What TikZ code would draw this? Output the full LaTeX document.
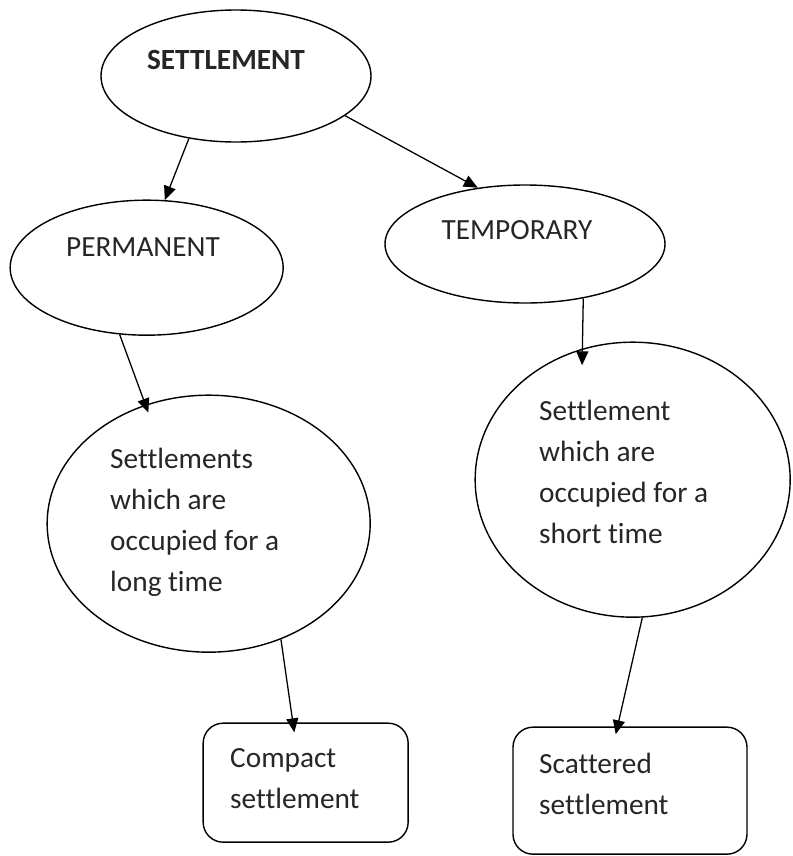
\documentclass[tikz,border=0pt]{standalone}
\usepackage{fontspec}
\setmainfont{Carlito}[Ligatures=NoCommon]
\usetikzlibrary{shapes, arrows.meta, positioning}

\tikzset{
	oval/.style={ellipse, draw, line width=1.2pt, inner sep=0pt},
	leaf/.style={rectangle, draw, rounded corners=0.6cm, line width=1.2pt, inner sep=0pt},
	caption/.style={inner sep=0pt, align=left, text=black!85, font=\fontsize{25}{35}\selectfont},
	link/.style={-{Triangle[length=0.42cm,width=0.36cm]}, line width=1.1pt},
}

\begin{document}
\begin{tikzpicture}
	\useasboundingbox (0,0) rectangle (23.79,-25.68);
	
	% top
	\node[oval, minimum width=8.1cm, minimum height=3.96cm] (settle) at (7.08,-2.28) {};
	\node[caption, font=\fontsize{25}{35}\selectfont\bfseries] (settletxt) at (6.78,-1.80) {SETTLEMENT};
	
	% kinds
	\node[oval, minimum width=8.19cm, minimum height=4.05cm] (perm) at (4.40,-8.03) {};
	\node[caption] (permtxt) at (4.29,-7.41) {PERMANENT};
	\node[oval, minimum width=8.4cm, minimum height=3.54cm] (temp) at (15.75,-7.32) {};
	\node[caption] (temptxt) at (15.51,-6.90) {TEMPORARY};
	
	% meanings
	\node[oval, minimum width=9.69cm, minimum height=7.71cm] (long) at (6.26,-15.71) {};
	\node[caption, anchor=west] (longtxt) at (3.30,-15.66) {Settlements\\which are\\occupied for a\\long time};
	\node[oval, minimum width=9.45cm, minimum height=8.25cm] (short) at (18.98,-14.39) {};
	\node[caption, anchor=west] (shorttxt) at (16.17,-14.15) {Settlement\\which are\\occupied for a\\short time};
	
	% types
	\node[leaf, minimum width=6.15cm, minimum height=3.57cm] (compact) at (9.17,-23.48) {};
	\node[caption, anchor=west] (compacttxt) at (6.90,-23.37) {Compact\\settlement};
	\node[leaf, minimum width=7.02cm, minimum height=3.81cm] (scatter) at (18.90,-23.72) {};
	\node[caption, anchor=west] (scattertxt) at (16.17,-23.51) {Scattered\\settlement};
	
	\draw[link] (settle.233) -- (perm.75);
	\draw[link] (settle.340) -- (temp.130);
	\draw[link, shorten >=-0.5cm] (temp.317) -- (short.111);
	\draw[link, shorten >=-0.25cm] (perm.248) -- (long.118);
	\draw[link, shorten >=-0.3cm] (long.302) -- (compact.102);
	\draw[link, shorten >=-0.24cm] (short.274) -- (scatter.101);
	
\end{tikzpicture}
\end{document}
